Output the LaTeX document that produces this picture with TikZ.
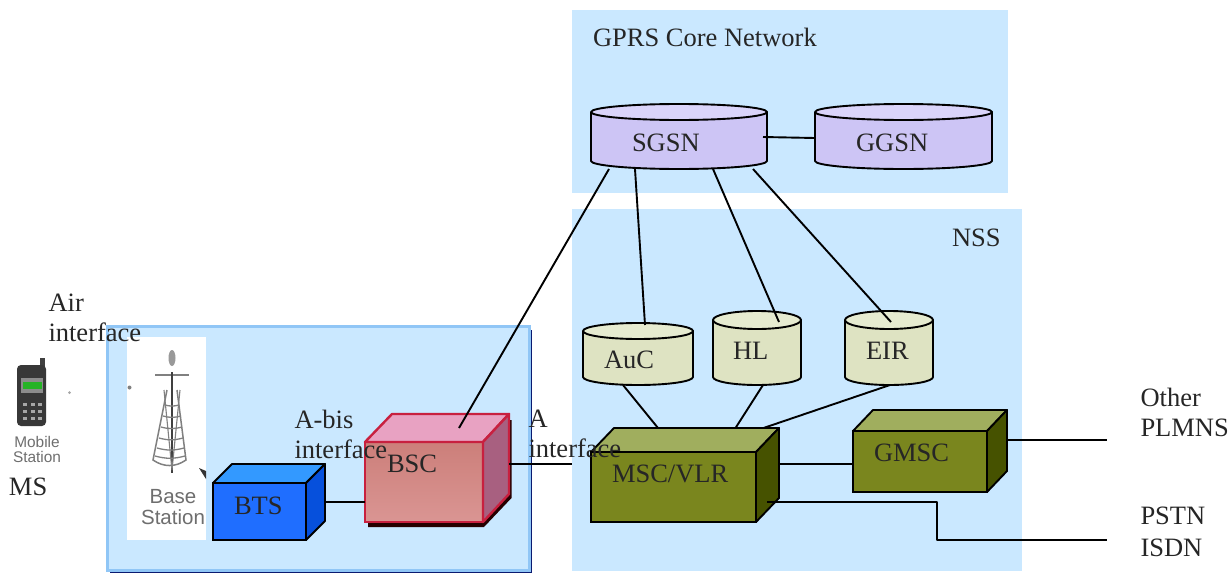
\documentclass[tikz,border=0pt]{standalone}
\usepackage{fontspec}
\setmainfont{Liberation Serif}
\setsansfont{Liberation Sans}
\definecolor{netblue}{HTML}{CAE8FF}
\definecolor{netedge}{HTML}{90C6F6}
\definecolor{netnavy}{HTML}{0A1A70}
\definecolor{lilac}{HTML}{CDC5F5}
\definecolor{lilactop}{HTML}{DAD4FA}
\definecolor{sage}{HTML}{DEE3C2}
\definecolor{sagetop}{HTML}{E6EBD0}
\definecolor{olive}{HTML}{7A861E}
\definecolor{olivetop}{HTML}{A0AE5E}
\definecolor{oliveside}{HTML}{465200}
\definecolor{btsfront}{HTML}{1F6EFF}
\definecolor{btstop}{HTML}{3399FF}
\definecolor{btsside}{HTML}{0650DC}
\definecolor{crimson}{HTML}{C8203F}
\definecolor{bsctop}{HTML}{E8A2C2}
\definecolor{bscside}{HTML}{A86080}
\definecolor{bschigh}{HTML}{CC7F7A}
\definecolor{bscmid}{HTML}{BF4F4C}
\definecolor{bsclow}{HTML}{DA9593}
\definecolor{inktext}{HTML}{262626}
\definecolor{photogray}{HTML}{6E6E6E}
\newcommand{\drum}[5]{%
\draw [wire,fill=#4] ([yshift=-#3pt]#1.north west) -- ([yshift=8pt]#1.south west)
  arc [start angle=180,end angle=360,x radius=#2,y radius=8]
  -- ([yshift=-#3pt]#1.north east) -- cycle;
\draw [wire,fill=#5] ([yshift=-#3pt]#1.north west)
  arc [start angle=180,end angle=-180,x radius=#2,y radius=#3];
}
\begin{document}
\begin{tikzpicture}[x=1pt,y=1pt,
  wire/.style={black,line width=1.9pt,line join=round},
  region/.style={fill=netblue,anchor=north west},
  label/.style={text=inktext,anchor=base west,font=\fontsize{26.5}{30}\selectfont},
  twolines/.style={text=inktext,anchor=north west,align=left,font=\fontsize{26.5}{30}\selectfont},
  photo/.style={text=photogray,font=\sffamily\fontsize{20.5}{21}\selectfont,align=center},
  cube/.style={draw=black,line width=1.9pt,anchor=north west},
  drumbox/.style={anchor=north west}]
\tikzstyle{every node}+=[inner sep=0pt,outer sep=0pt]
\useasboundingbox (0,0) rectangle (1229,-573);
% core and radio regions
\node [region,minimum width=436pt,minimum height=183pt] (gprs) at (572,-10) {};
\fill [netnavy] (110,-330) rectangle (532,-573);
\node [region,draw=netedge,line width=2.4pt,minimum width=422pt,minimum height=244pt] (bss) at (107.5,-326.5) {};
% base station picture
\node [fill=white,anchor=north west,minimum width=79pt,minimum height=203pt] (towerbg) at (127,-337) {};
\fill [gray!80] (172,-358) ellipse (3.5 and 8);
\draw [gray,line width=1.8pt] (155,-375) -- (189,-375);
\draw [black!75,line width=2.6pt] (172,-372) -- (172,-473);
\draw [gray,line width=1.5pt] (167,-390) -- (153,-460) to [bend right=35] (186,-460) -- (177,-390);
\draw [gray,line width=1.3pt] (165,-405) to [bend right=15] (179,-405);
\draw [gray,line width=1.3pt] (163,-416) to [bend right=15] (181,-416);
\draw [gray,line width=1.3pt] (161,-427) to [bend right=15] (182,-427);
\draw [gray,line width=1.3pt] (159,-438) to [bend right=15] (183,-438);
\draw [gray,line width=1.3pt] (157,-448) to [bend right=15] (184,-448);
\draw [gray,line width=1.3pt] (155,-456) to [bend right=15] (185,-456);
\draw [gray,line width=1.1pt] (164,-390) -- (172,-470) -- (180,-390);
\fill [gray] (129.5,-387.5) circle (2);
\fill [black!80] (199,-468) -- (206,-471) -- (206,-479) -- cycle;
\node [photo] (towername) at (173,-507) {Base\\Station};
% mobile picture
\fill [black!75] (40,-358) rectangle (45,-370);
\fill [black!78,rounded corners=4pt] (17,-365) rectangle (46,-426);
\fill [black!45] (21,-378) rectangle (43,-393);
\fill [green!65!black!85] (23,-382) rectangle (42,-389);
\draw [gray!70,line width=4pt,dash pattern=on 3pt off 4pt] (25,-403) -- (25,-420);
\draw [gray!70,line width=4pt,dash pattern=on 3pt off 4pt] (32.5,-403) -- (32.5,-420);
\draw [gray!70,line width=4pt,dash pattern=on 3pt off 4pt] (40,-403) -- (40,-420);
\fill [gray!70] (69.5,-392.5) circle (1.5);
\node [photo,font=\sffamily\fontsize{15.4}{15}\selectfont] (phonename) at (37,-449) {Mobile\\Station};
% access side boxes
\node [cube,fill=btsfront,minimum width=93pt,minimum height=57pt] (bts) at (213,-483) {};
\draw [wire,fill=btstop] (bts.north west) -- ++(19,19) -- ++(93,0) -- ++(-19,-19) -- cycle;
\draw [wire,fill=btsside] (bts.north east) -- ++(19,19) -- ++(0,-57) -- ++(-19,-19) -- cycle;
\fill [black!85!red] (368,-527) -- (484,-527) -- (511.5,-498) -- (511.5,-420) -- (500,-420) -- (480,-500) -- (368,-515) -- cycle;
\node [draw=crimson,line width=2.4pt,anchor=north west,top color=bschigh,middle color=bscmid,bottom color=bsclow,minimum width=118pt,minimum height=80pt] (bsc) at (365,-442) {};
\draw [crimson,line width=2.4pt,line join=round,fill=bsctop] (bsc.north west) -- ++(27,28) -- ++(117,0) -- ++(-26,-28) -- cycle;
\draw [crimson,line width=2.4pt,line join=round,fill=bscside] (bsc.north east) -- ++(26,28) -- ++(0,-80) -- ++(-26,-28) -- cycle;
\draw [wire] (bts.east) ++(19,9.5) coordinate (btsport) -- (bsc.west |- btsport);
\coordinate (nssedge) at (572,-464);
\draw [wire] ([xshift=26pt]bsc.east |- nssedge) -- (nssedge);
% core side
\node [region,minimum width=450pt,minimum height=362pt] (nss) at (572,-209) {};
\node [drumbox,minimum width=176pt,minimum height=65pt] (sgsn) at (591,-104) {};
\drum{sgsn}{88}{8}{lilac}{lilactop}
\node [drumbox,minimum width=177pt,minimum height=65pt] (ggsn) at (815,-104) {};
\drum{ggsn}{88.5}{8}{lilac}{lilactop}
\node [drumbox,minimum width=110pt,minimum height=62pt] (auc) at (583,-323) {};
\drum{auc}{55}{8}{sage}{sagetop}
\node [drumbox,minimum width=88pt,minimum height=74pt] (hl) at (713,-311) {};
\drum{hl}{44}{9}{sage}{sagetop}
\node [drumbox,minimum width=88pt,minimum height=74pt] (eir) at (845,-311) {};
\drum{eir}{44}{9}{sage}{sagetop}
\node [cube,fill=olive,minimum width=165pt,minimum height=70pt] (msc) at (591,-452) {};
\draw [wire,fill=olivetop] (msc.north west) -- ++(23,24) -- ++(165,0) -- ++(-23,-24) -- cycle;
\draw [wire,fill=oliveside] (msc.north east) -- ++(23,24) -- ++(0,-70) -- ++(-23,-24) -- cycle;
\node [cube,fill=olive,minimum width=134pt,minimum height=61pt] (gmsc) at (853,-431) {};
\draw [wire,fill=olivetop] (gmsc.north west) -- ++(20,21) -- ++(134,0) -- ++(-20,-21) -- cycle;
\draw [wire,fill=oliveside] (gmsc.north east) -- ++(20,21) -- ++(0,-61) -- ++(-20,-21) -- cycle;
\coordinate (plmnend) at (1107,-440);
\coordinate (pstnbend) at (937,-540);
\coordinate (pstnend) at (1107,-540);
% connectors
\draw [wire] ([xshift=-4pt,yshift=-0.5pt]sgsn.east) -- ([yshift=-1.5pt]ggsn.west);
\draw [wire] ([xshift=-70pt]sgsn.south) -- ([xshift=35pt,yshift=14pt]bsc.north);
\draw [wire] ([xshift=-44pt]sgsn.south) -- ([xshift=7pt,yshift=-2pt]auc.north);
\draw [wire] ([xshift=34pt]sgsn.south) -- ([xshift=22pt,yshift=-11pt]hl.north);
\draw [wire] ([xshift=74pt]sgsn.south) -- ([xshift=2pt,yshift=-11pt]eir.north);
\draw [wire] ([xshift=-15pt]auc.south) -- ([xshift=-15.5pt,yshift=24pt]msc.north);
\draw [wire] ([xshift=6pt]hl.south) -- ([xshift=62pt,yshift=24pt]msc.north);
\draw [wire] ([xshift=1pt]eir.south) -- ([xshift=90pt,yshift=24pt]msc.north);
\draw [wire] ([xshift=23pt,yshift=23pt]msc.east) -- ([yshift=-2.5pt]gmsc.west);
\draw [wire] ([xshift=11pt,yshift=-15pt]msc.east) -| (pstnbend) -- (pstnend);
\draw [wire] ([xshift=20pt,yshift=21.5pt]gmsc.east) -- (plmnend);
% labels
\node [label] (gprstext) at (593,-46) {GPRS Core Network};
\node [label] (sgsntext) at (632,-151) {SGSN};
\node [label] (ggsntext) at (856,-151) {GGSN};
\node [label] (nsstext) at (952,-246) {NSS};
\node [label] (auctext) at (604,-368) {AuC};
\node [label] (hltext) at (733,-359) {HL};
\node [label] (eirtext) at (866,-359) {EIR};
\node [label] (btstext) at (234,-514) {BTS};
\node [label] (bsctext) at (387,-472) {BSC};
\node [label] (msctext) at (612,-482) {MSC/VLR};
\node [label] (gmsctext) at (874,-461) {GMSC};
\node [label] (mstext) at (9,-495) {MS};
\node [twolines] (airtext) at (48.5,-294) {Air\\interface};
\node [twolines] (abistext) at (294.5,-410) {A-bis\\interface};
\node [twolines] (atext) at (528.5,-410) {A\\interface};
\node [twolines] (othertext) at (1140.5,-388) {Other\\PLMNS};
\node [twolines] (pstntext) at (1140.5,-507) {PSTN\\[2pt]ISDN};
\end{tikzpicture}
\end{document}
